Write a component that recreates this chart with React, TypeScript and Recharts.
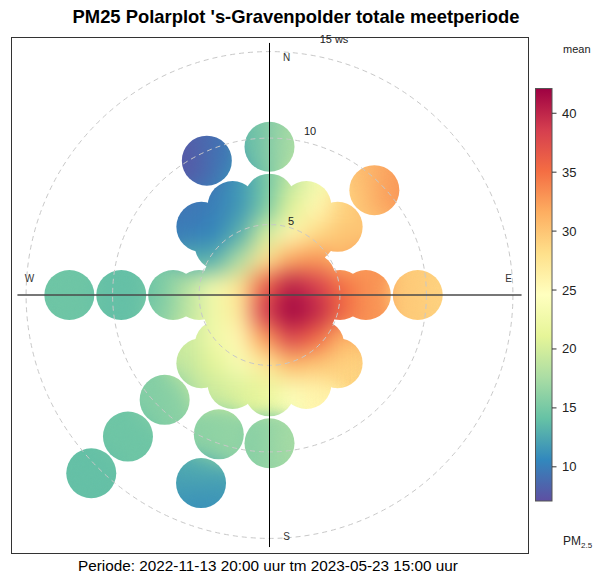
import { ScatterChart, Scatter, XAxis, YAxis } from "recharts";

const W = 593;
const H = 578;
const PLOT = { left: 11, top: 37, width: 517, height: 516 };
const PX = 17.3; // pixels per m/s on the radial axis
const WS_OFFSET = 0.93; // the source plot puts ws at radius (ws - offset)
const BLOB_R = 25; // pixel radius of the area kept around each data bin
const STEP = 1.5; // grid step of the read surface, m/s
const FONT = "'Liberation Sans', Arial, Helvetica, sans-serif";

// openair default palette (reversed Spectral)
const SPECTRAL = ["#5E4FA2", "#3288BD", "#66C2A5", "#ABDDA4", "#E6F598", "#FFFFBF", "#FEE08B", "#FDAE61", "#F46D43", "#D53E4F", "#9E0142"];
const LIMITS = [7.1, 42.1];
const legendTicks = [10, 15, 20, 25, 30, 35, 40];
const ringValues = [5, 10, 15];

// mean PM2.5, on a 1.5 m/s grid (x = east, y = north)
const gridX = [-6.25, -4.75, -3.25, -1.75, -0.25, 1.25, 2.75, 4.25, 5.75];
const gridY = [6.5, 5, 3.5, 2, 0.5, -1, -2.5, -4, -5.5];
const surface: (number | null)[][] = [
  [null, null, 10, 11.5, 14.5, 19, 23, null, null],
  [null, 9.5, 10, 11.5, 15, 21, 25.5, 29, 30],
  [10, 10, 10.5, 13, 20, 25.5, 28.5, 30, 30],
  [null, 13, 13, 18, 27.5, 32, 33, 31, 33],
  [15, 18.5, 23, 27.5, 36, 40.5, 38.5, 35, 33],
  [15.5, 18.5, 22.5, 27, 38.5, 42, 40, 35.5, 33],
  [null, 19.5, 22.5, 25.5, 32.5, 38, 35.5, 31, null],
  [null, 19, 21, 23.5, 27, 31, 30, 29, null],
  [null, 18.5, 19.5, 20.5, 21.5, 24, 26, null, null],
];

// wind bins with data (direction in degrees, ws in m/s)
const calmBins = [{ wd: 0, ws: 1 }];
const ring35Dirs = [0, 22.5, 45, 67.5, 90, 112.5, 135, 157.5, 180, 202.5, 225, 247.5, 270, 292.5, 315, 337.5];
const ring50Dirs = [0, 22.5, 35, 90, 135, 157.5, 180, 202.5, 225, 270, 315, 337.5];
const ring65Dirs = [0, 22.5, 45, 90, 135, 157.5, 180, 202.5, 225, 270, 315, 337.5];
// isolated bins: value at one side (v1) and the other (v2), left-right or top-bottom
const outerBins = [
  { wd: 0, ws: 9.5, v1: 13.5, v2: 18, axis: "x" },
  { wd: 335, ws: 9.5, v1: 7.5, v2: 10, axis: "x" },
  { wd: 45, ws: 9.5, v1: 29.5, v2: 33, axis: "x" },
  { wd: 90, ws: 9.5, v1: 30, v2: 29, axis: "x" },
  { wd: 180, ws: 9.5, v1: 15.5, v2: 17.5, axis: "x" },
  { wd: 200, ws: 9.5, v1: 16, v2: 16.5, axis: "x" },
  { wd: 225, ws: 9.5, v1: 15.5, v2: 16, axis: "x" },
  { wd: 270, ws: 9.5, v1: 14, v2: 14, axis: "x" },
  { wd: 200, ws: 12.5, v1: 13, v2: 11, axis: "y" },
  { wd: 225, ws: 12.5, v1: 14.5, v2: 14.5, axis: "x" },
  { wd: 270, ws: 12.5, v1: 14.5, v2: 14.5, axis: "x" },
  { wd: 225, ws: 15.5, v1: 14, v2: 14, axis: "x" },
];

const hexToRgb = (h: string) => [1, 3, 5].map((i) => parseInt(h.slice(i, i + 2), 16));

function colorOf(v: number) {
  const t = Math.min(1, Math.max(0, (v - LIMITS[0]) / (LIMITS[1] - LIMITS[0])));
  const p = t * (SPECTRAL.length - 1);
  const i = Math.min(SPECTRAL.length - 2, Math.floor(p));
  const f = p - i;
  const a = hexToRgb(SPECTRAL[i]);
  const b = hexToRgb(SPECTRAL[i + 1]);
  const c = a.map((x, k) => Math.round(x + (b[k] - x) * f));
  return `rgb(${c[0]},${c[1]},${c[2]})`;
}

function toXY(wd: number, ws: number) {
  const r = Math.max(0, ws - WS_OFFSET);
  const a = (wd * Math.PI) / 180;
  return { x: r * Math.sin(a), y: r * Math.cos(a) };
}

const surfaceData = [
  ...surface.flatMap((row, j) =>
    row.flatMap((v, i) => (v == null ? [] : [{ x: gridX[i], y: gridY[j], v, kind: "cell" }]))
  ),
  ...outerBins.map((b, i) => ({ ...toXY(b.wd, b.ws), v1: b.v1, v2: b.v2, axis: b.axis, kind: "blob", id: i })),
];

const maskData = [
  ...calmBins.map((b) => toXY(b.wd, b.ws)),
  ...ring35Dirs.map((d) => toXY(d, 3.5)),
  ...ring50Dirs.map((d) => toXY(d, 5)),
  ...ring65Dirs.map((d) => toXY(d, 6.5)),
  ...outerBins.map((b) => toXY(b.wd, b.ws)),
];

const DX = PLOT.width / 2 / PX;
const DY = PLOT.height / 2 / PX;

const SurfaceShape = (p: any) => {
  const d = p.payload;
  if (d.kind === "cell") {
    const s = STEP * PX + 0.6;
    return <rect x={p.cx - s / 2} y={p.cy - s / 2} width={s} height={s} fill={colorOf(d.v)} />;
  }
  const id = `pp-blob-${d.id}`;
  return (
    <g>
      <defs>
        <linearGradient id={id} x1="0" y1="0" x2={d.axis === "x" ? "1" : "0"} y2={d.axis === "y" ? "1" : "0"}>
          <stop offset="0.1" stopColor={colorOf(d.v1)} />
          <stop offset="0.9" stopColor={colorOf(d.v2)} />
        </linearGradient>
      </defs>
      <circle cx={p.cx} cy={p.cy} r={BLOB_R} fill={`url(#${id})`} />
    </g>
  );
};

const MaskShape = (p: any) => <circle cx={p.cx} cy={p.cy} r={BLOB_R} fill="#000" />;

const FrameShape = (p: any) => {
  const { cx, cy } = p;
  const R = (15.5 - WS_OFFSET) * PX;
  const t = { fontFamily: FONT, fontSize: 10, fill: "#333", textAnchor: "middle" as const };
  const lab = { fontFamily: FONT, fontSize: 11, fill: "#222", textAnchor: "middle" as const };
  return (
    <g>
      {ringValues.map((ws) => (
        <circle key={ws} cx={cx} cy={cy} r={(ws - WS_OFFSET) * PX} fill="none" stroke="#c8c8c8" strokeDasharray="5 4" />
      ))}
      <line x1={cx} x2={cx} y1={cy - R} y2={cy + R} stroke="#000" strokeWidth={1} />
      <line x1={cx - R} x2={cx + R} y1={cy} y2={cy} stroke="#4a4a4a" strokeWidth={1.5} />
      <text x={cx + 17} y={cy - 234} {...t}>N</text>
      <text x={cx + 17} y={cy + 244.5} {...t}>S</text>
      <text x={cx - 240} y={cy - 13} {...t}>W</text>
      <text x={cx + 239} y={cy - 13} {...t}>E</text>
      <text x={cx + 21.5} y={cy - 70} {...lab}>5</text>
      <text x={cx + 40.5} y={cy - 160} {...lab}>10</text>
      <text x={cx + 64.5} y={cy - 252} {...lab}>15 ws</text>
    </g>
  );
};

const BAR = { x: 535.5, y: 88.5, w: 16.5, h: 412.5 };
const barY = (v: number) => BAR.y + BAR.h - ((v - LIMITS[0]) / (LIMITS[1] - LIMITS[0])) * BAR.h;

export default function App() {
  return (
    <div style={{ position: "absolute", left: 0, top: 0, width: W, height: H, background: "#fff" }}>
      <style>{`.pp-surface{filter:url(#pp-smooth)} .pp-mask{filter:url(#pp-out)}`}</style>
      <svg width={0} height={0} style={{ position: "absolute" }}>
        <defs>
          <filter id="pp-smooth" filterUnits="userSpaceOnUse" x={PLOT.left} y={PLOT.top} width={PLOT.width} height={PLOT.height} colorInterpolationFilters="sRGB">
            <feGaussianBlur in="SourceGraphic" stdDeviation={11} />
            <feComponentTransfer>
              <feFuncA type="linear" slope={0} intercept={1} />
            </feComponentTransfer>
          </filter>
          <filter id="pp-out" filterUnits="userSpaceOnUse" x={PLOT.left} y={PLOT.top} width={PLOT.width} height={PLOT.height}>
            <feFlood floodColor="#ffffff" result="w" />
            <feComposite in="w" in2="SourceAlpha" operator="out" />
          </filter>
        </defs>
      </svg>
      <ScatterChart
        width={W}
        height={H}
        margin={{ top: PLOT.top, left: PLOT.left, right: W - PLOT.left - PLOT.width, bottom: H - PLOT.top - PLOT.height }}
      >
        <XAxis type="number" dataKey="x" domain={[-DX, DX]} hide />
        <YAxis type="number" dataKey="y" domain={[-DY, DY]} hide />
        <Scatter className="pp-surface" data={surfaceData} shape={SurfaceShape} isAnimationActive={false} />
        <Scatter className="pp-mask" data={maskData} shape={MaskShape} isAnimationActive={false} />
        <Scatter data={[{ x: 0, y: 0 }]} shape={FrameShape} isAnimationActive={false} />
      </ScatterChart>
      <svg width={W} height={H} style={{ position: "absolute", left: 0, top: 0, pointerEvents: "none" }}>
        <defs>
          <linearGradient id="pp-bar" x1="0" y1="1" x2="0" y2="0">
            {SPECTRAL.map((c, i) => (
              <stop key={c} offset={i / (SPECTRAL.length - 1)} stopColor={c} />
            ))}
          </linearGradient>
        </defs>
        <rect x={11.5} y={37.5} width={517} height={516} fill="none" stroke="#333" strokeWidth={1} />
        <text x={296} y={23} textAnchor="middle" fontFamily={FONT} fontSize={18.4} fontWeight="bold" fill="#000">
          PM25 Polarplot 's-Gravenpolder totale meetperiode
        </text>
        <text x={268} y={571} textAnchor="middle" fontFamily={FONT} fontSize={15.3} fill="#000">
          Periode: 2022-11-13 20:00 uur tm 2023-05-23 15:00 uur
        </text>
        <rect x={BAR.x} y={BAR.y} width={BAR.w} height={BAR.h} fill="url(#pp-bar)" stroke="#555" strokeWidth={1} />
        {legendTicks.map((v) => (
          <g key={v}>
            <line x1={BAR.x + BAR.w} x2={BAR.x + BAR.w + 4.5} y1={barY(v)} y2={barY(v)} stroke="#333" />
            <text x={562} y={barY(v) + 4.5} fontFamily={FONT} fontSize={13} fill="#222">{v}</text>
          </g>
        ))}
        <text x={563} y={53} fontFamily={FONT} fontSize={11} fill="#222">mean</text>
        <text x={563} y={545} fontFamily={FONT} fontSize={12} fill="#222">
          PM<tspan fontSize={8} dy={3}>2.5</tspan>
        </text>
      </svg>
    </div>
  );
}
